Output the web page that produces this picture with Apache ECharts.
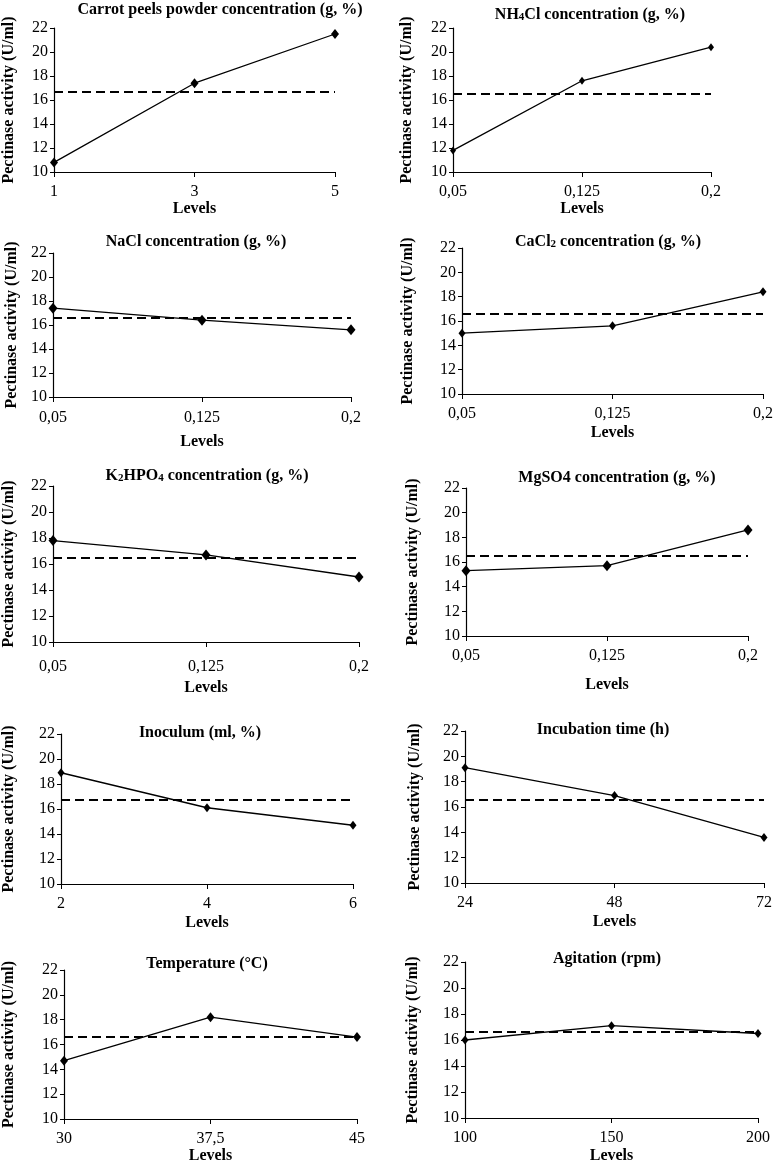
<!DOCTYPE html>
<html><head><meta charset="utf-8">
<script src="https://cdn.jsdelivr.net/npm/echarts@6/dist/echarts.min.js"></script>
<style>html,body{margin:0;padding:0;background:#fff}#c{width:777px;height:1165px}</style>
</head><body><div id="c"></div>
<script>
// ---- data ----
const titles = [
  'Carrot peels powder concentration (g, %)',
  'NH{s|4}Cl concentration (g, %)',
  'NaCl concentration (g, %)',
  'CaCl{s|2} concentration (g, %)',
  'K{s|2}HPO{s|4} concentration (g, %)',
  'MgSO4 concentration (g, %)',
  'Inoculum (ml, %)',
  'Incubation time (h)',
  'Temperature (\u00B0C)',
  'Agitation (rpm)'
];
const levCarrot = ['1', '3', '5'];
const levSalt = ['0,05', '0,125', '0,2'];
const levInoculum = ['2', '4', '6'];
const levTime = ['24', '48', '72'];
const levTemp = ['30', '37,5', '45'];
const levAgit = ['100', '150', '200'];

const valCarrot = [10.8, 17.4, 21.5];
const valNH4Cl = [11.8, 17.6, 20.4];
const valNaCl = [17.4, 16.4, 15.6];
const valCaCl2 = [15.0, 15.6, 18.4];
const valK2HPO4 = [17.8, 16.7, 15.0];
const valMgSO4 = [15.3, 15.7, 18.6];
const valInoculum = [18.9, 16.1, 14.7];
const valTime = [19.1, 16.9, 13.6];
const valTemp = [14.7, 18.2, 16.6];
const valAgit = [16.0, 17.1, 16.5];

const means = [16.7, 16.5, 16.6, 16.6, 16.5, 16.5, 16.75, 16.6, 16.65, 16.6];

const yTicks = {min: 10, max: 22, interval: 2};
const yTitle = 'Pectinase activity (U/ml)';
const xTitle = 'Levels';

const panelLevels = [levCarrot, levSalt, levSalt, levSalt, levSalt, levSalt, levInoculum, levTime, levTemp, levAgit];
const panelValues = [valCarrot, valNH4Cl, valNaCl, valCaCl2, valK2HPO4, valMgSO4, valInoculum, valTime, valTemp, valAgit];

// ---- layout (pixels) ----
// [left, top, right, bottom]
const boxes = [
  [54, 28, 335, 172], [453, 28, 711, 172],
  [53, 253, 351, 397], [462, 248, 763, 394],
  [53, 486, 359, 642], [466, 488, 748, 636],
  [61, 734, 353, 884], [465, 731, 764, 883],
  [64, 970, 357, 1120], [465, 962, 758, 1119]
];
const titlePos = [
  [220, 10], [590, 15], [196, 242], [608, 242], [207, 476],
  [617, 478], [200, 733], [603, 730], [207, 964], [607, 959]
];
const yNameGap = [37, 38, 33, 46, 36, 45, 44, 42, 47, 44];
const xNameGap = [26, 28, 37, 31, 38, 41, 31, 31, 29, 30];
const xLabelMargin = [12, 12, 13, 12, 17, 12, 12, 12, 12, 12];
const symSizes = [[8, 10], [6, 8], [9, 11], [7, 9], [9, 11], [9, 11], [7, 9], [7, 9], [8, 10], [7, 9]];

const FONT = '"Liberation Serif", "Times New Roman", serif';

const grid = [], xAxis = [], yAxis = [], series = [], graphic = [];
boxes.forEach((b, i) => {
  grid.push({left: b[0], top: b[1], width: b[2] - b[0], height: b[3] - b[1], containLabel: false});
  xAxis.push({
    gridIndex: i, type: 'category', data: panelLevels[i], boundaryGap: false,
    name: xTitle, nameLocation: 'middle', nameGap: xNameGap[i],
    nameTextStyle: {fontFamily: FONT, fontWeight: 'bold', fontSize: 16, color: '#000'},
    axisLine: {lineStyle: {color: '#000', width: 1.2}},
    axisTick: {show: true, length: 5, alignWithLabel: true, lineStyle: {color: '#000'}},
    axisLabel: {fontFamily: FONT, fontSize: 16, color: '#000', margin: xLabelMargin[i], interval: 0},
    splitLine: {show: false}
  });
  yAxis.push({
    gridIndex: i, type: 'value', min: yTicks.min, max: yTicks.max, interval: yTicks.interval,
    name: yTitle, nameLocation: 'middle', nameGap: yNameGap[i],
    nameTextStyle: {fontFamily: FONT, fontWeight: 'bold', fontSize: 16, color: '#000'},
    axisLine: {show: true, lineStyle: {color: '#000', width: 1.2}},
    axisTick: {show: true, length: 4, lineStyle: {color: '#000'}},
    axisLabel: {fontFamily: FONT, fontSize: 16, color: '#000', margin: 6},
    splitLine: {show: false}
  });
  series.push({
    type: 'line', xAxisIndex: i, yAxisIndex: i, data: panelValues[i],
    symbol: 'diamond', symbolSize: symSizes[i],
    lineStyle: {color: '#000', width: 1.3},
    itemStyle: {color: '#000'},
    animation: false,
    markLine: {
      silent: true, symbol: ['none', 'none'], label: {show: false},
      lineStyle: {color: '#000', type: [9, 5], width: 2},
      data: [{yAxis: means[i]}],
      animation: false
    }
  });
  graphic.push({
    type: 'text', x: titlePos[i][0], y: titlePos[i][1], z: 100,
    style: {
      text: titles[i], align: 'center', verticalAlign: 'middle',
      fontFamily: FONT, fontWeight: 'bold', fontSize: 16, fill: '#000',
      rich: {s: {fontFamily: FONT, fontWeight: 'bold', fontSize: 11, verticalAlign: 'bottom', fill: '#000'}}
    }
  });
});

const chart = echarts.init(document.getElementById('c'), null, {renderer: 'canvas'});
chart.setOption({animation: false, backgroundColor: '#fff', grid, xAxis, yAxis, series, graphic});
</script></body></html>
